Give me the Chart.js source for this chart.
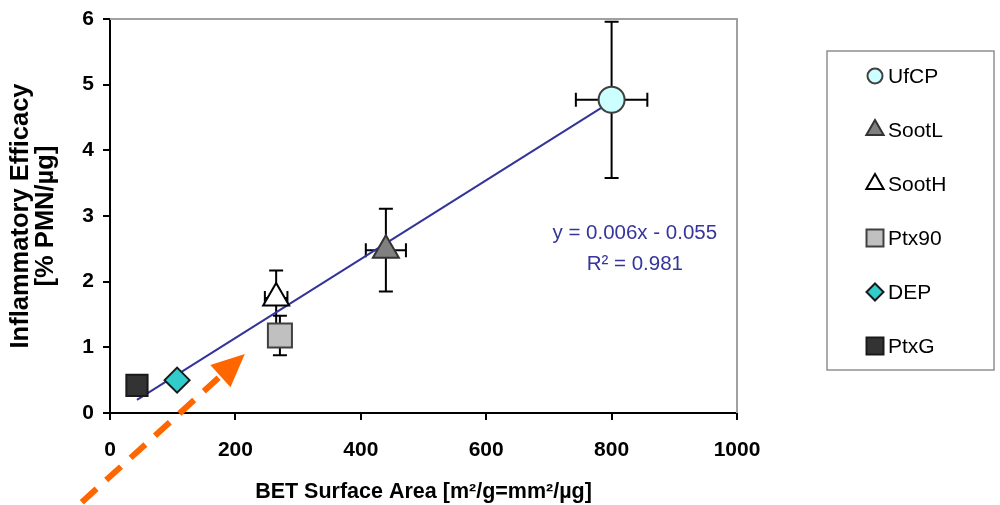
<!DOCTYPE html>
<html>
<head>
<meta charset="utf-8">
<script src="https://cdn.jsdelivr.net/npm/chart.js@4"></script>
<style>
  html, body { margin: 0; padding: 0; background: #fff; }
  #wrap { width: 1000px; height: 505px; position: relative; }
</style>
</head>
<body>
<div id="wrap"><canvas id="betChart"></canvas></div>
<script>
const labels = ["UfCP", "SootL", "SootH", "Ptx90", "DEP", "PtxG"];
const surfaceArea = [800, 440, 265, 271, 107, 43];
const efficacy = [4.77, 2.48, 1.75, 1.18, 0.50, 0.42];
const surfaceErr = [57, 32, 18, 0, 0, 0];
const efficacyErr = [1.19, 0.63, 0.42, 0.30, 0, 0];

const trendX = [43, 800];
const trendY = [0.20, 4.745];
const equationLines = ["y = 0.006x - 0.055", "R\u00b2 = 0.981"];

const xTicks = [0, 200, 400, 600, 800, 1000];
const yTicks = [0, 1, 2, 3, 4, 5, 6];

const markerStyles = [
  { style: "circle", radius: 13, legendRadius: 7.5, fill: "#ccffff", border: "#404040" },
  { style: "triangle", radius: 15, legendRadius: 10, fill: "#808080", border: "#333333" },
  { style: "triangle", radius: 15, legendRadius: 10, fill: "#ffffff", border: "#000000" },
  { style: "rect", radius: 17, legendRadius: 12, fill: "#c0c0c0", border: "#404040" },
  { style: "rectRot", radius: 12.5, legendRadius: 8.5, fill: "#33cccc", border: "#1a1a1a" },
  { style: "rect", radius: 15, legendRadius: 12, fill: "#333333", border: "#1a1a1a" }
];

Chart.defaults.font.family = "'Liberation Sans', Arial, sans-serif";
Chart.defaults.color = "#000";

const datasets = labels.map((label, i) => ({
  type: "scatter",
  label: label,
  data: [{ x: surfaceArea[i], y: efficacy[i] }],
  pointStyle: markerStyles[i].style,
  pointRadius: markerStyles[i].radius,
  pointHoverRadius: markerStyles[i].radius,
  backgroundColor: markerStyles[i].fill,
  borderColor: markerStyles[i].border,
  pointBorderWidth: 2,
  order: 1
}));

datasets.push({
  type: "line",
  label: "trend",
  data: trendX.map((x, i) => ({ x: x, y: trendY[i] })),
  borderColor: "#333399",
  borderWidth: 2,
  pointRadius: 0,
  fill: false,
  order: 5
});

// error bars, drawn under the markers
const errorBars = {
  id: "errorBars",
  beforeDatasetsDraw(chart) {
    const { ctx, scales: { x, y } } = chart;
    const cap = 7;
    ctx.save();
    ctx.strokeStyle = "#000";
    ctx.lineWidth = 2;
    labels.forEach((l, i) => {
      const px = x.getPixelForValue(surfaceArea[i]);
      const py = y.getPixelForValue(efficacy[i]);
      if (efficacyErr[i] > 0) {
        const top = y.getPixelForValue(efficacy[i] + efficacyErr[i]);
        const bot = y.getPixelForValue(efficacy[i] - efficacyErr[i]);
        ctx.beginPath();
        ctx.moveTo(px, top); ctx.lineTo(px, bot);
        ctx.moveTo(px - cap, top); ctx.lineTo(px + cap, top);
        ctx.moveTo(px - cap, bot); ctx.lineTo(px + cap, bot);
        ctx.stroke();
      }
      if (surfaceErr[i] > 0) {
        const left = x.getPixelForValue(surfaceArea[i] - surfaceErr[i]);
        const right = x.getPixelForValue(surfaceArea[i] + surfaceErr[i]);
        ctx.beginPath();
        ctx.moveTo(left, py); ctx.lineTo(right, py);
        ctx.moveTo(left, py - cap); ctx.lineTo(left, py + cap);
        ctx.moveTo(right, py - cap); ctx.lineTo(right, py + cap);
        ctx.stroke();
      }
    });
    ctx.restore();
  }
};

// frame, equation, legend box and the orange arrow
const extras = {
  id: "extras",
  afterDraw(chart) {
    const { ctx, chartArea: a, scales: { x, y } } = chart;
    ctx.save();

    ctx.strokeStyle = "#a0a0a0";
    ctx.lineWidth = 2;
    ctx.beginPath();
    ctx.moveTo(a.left, a.top);
    ctx.lineTo(a.right, a.top);
    ctx.lineTo(a.right, a.bottom);
    ctx.stroke();

    ctx.fillStyle = "#35359a";
    ctx.font = "20.5px 'Liberation Sans', Arial, sans-serif";
    ctx.textAlign = "center";
    ctx.textBaseline = "middle";
    ctx.fillText(equationLines[0], x.getPixelForValue(837), y.getPixelForValue(2.73));
    ctx.fillText(equationLines[1], x.getPixelForValue(837), y.getPixelForValue(2.26));

    // legend
    const box = { left: 827, top: 51, width: 167, height: 319 };
    ctx.strokeStyle = "#909090";
    ctx.lineWidth = 1.5;
    ctx.strokeRect(box.left, box.top, box.width, box.height);
    ctx.font = "21px 'Liberation Sans', Arial, sans-serif";
    ctx.textAlign = "left";
    labels.forEach((l, i) => {
      const cy = 76 + i * 54;
      const m = markerStyles[i];
      ctx.fillStyle = m.fill;
      ctx.strokeStyle = m.border;
      ctx.lineWidth = 2;
      Chart.helpers.drawPoint(ctx, { pointStyle: m.style, radius: m.legendRadius, borderWidth: 2 }, 875, cy);
      ctx.fillStyle = "#000";
      ctx.fillText(l, 888, cy + 1);
    });

    // orange dashed arrow
    const from = { x: x.getPixelForValue(-45), y: y.getPixelForValue(-1.36) };
    const to = { x: x.getPixelForValue(215), y: y.getPixelForValue(0.9) };
    const ang = Math.atan2(to.y - from.y, to.x - from.x);
    const headLen = 33, headHalf = 15;
    const bx = to.x - Math.cos(ang) * headLen;
    const by = to.y - Math.sin(ang) * headLen;
    ctx.strokeStyle = "#ff6600";
    ctx.fillStyle = "#ff6600";
    ctx.lineWidth = 6;
    ctx.setLineDash([20, 13]);
    ctx.beginPath();
    ctx.moveTo(from.x, from.y);
    ctx.lineTo(bx, by);
    ctx.stroke();
    ctx.setLineDash([]);
    ctx.beginPath();
    ctx.moveTo(to.x, to.y);
    ctx.lineTo(bx + Math.sin(ang) * headHalf, by - Math.cos(ang) * headHalf);
    ctx.lineTo(bx - Math.sin(ang) * headHalf, by + Math.cos(ang) * headHalf);
    ctx.closePath();
    ctx.fill();

    ctx.restore();
  }
};

new Chart(document.getElementById("betChart"), {
  type: "scatter",
  data: { datasets: datasets },
  options: {
    responsive: true,
    maintainAspectRatio: false,
    animation: false,
    layout: { padding: { top: 14, right: 263, left: 0, bottom: 0 } },
    plugins: {
      legend: { display: false },
      tooltip: { enabled: false }
    },
    scales: {
      x: {
        type: "linear",
        min: 0,
        max: 1000,
        afterBuildTicks: (s) => { s.ticks = xTicks.map(v => ({ value: v })); },
        afterFit: (s) => { s.height = 92; },
        border: { color: "#000", width: 2 },
        grid: { drawOnChartArea: false, drawTicks: true, tickLength: 7, color: "#000", lineWidth: 2 },
        ticks: {
          font: { size: 21, weight: "bold" },
          color: "#000",
          padding: 18,
          maxRotation: 0,
          callback: (v) => String(v)
        },
        title: {
          display: true,
          text: "BET Surface Area [m\u00b2/g=mm\u00b2/\u00b5g]",
          font: { size: 21.5, weight: "bold" },
          color: "#000",
          padding: { top: 0, bottom: 0 }
        }
      },
      y: {
        type: "linear",
        min: 0,
        max: 6,
        afterBuildTicks: (s) => { s.ticks = yTicks.map(v => ({ value: v })); },
        afterFit: (s) => { s.width = 110; s.paddingTop = 0; s.paddingBottom = 0; },
        border: { color: "#000", width: 2 },
        grid: { drawOnChartArea: false, drawTicks: true, tickLength: 7, color: "#000", lineWidth: 2 },
        ticks: { font: { size: 21, weight: "bold", lineHeight: 0.3 }, color: "#000", padding: 9 },
        title: {
          display: true,
          text: ["Inflammatory Efficacy", "[% PMN/\u00b5g]"],
          font: { size: 25.5, weight: "bold", lineHeight: 1.0 },
          color: "#000",
          padding: { top: 8 }
        }
      }
    }
  },
  plugins: [errorBars, extras]
});
</script>
</body>
</html>
